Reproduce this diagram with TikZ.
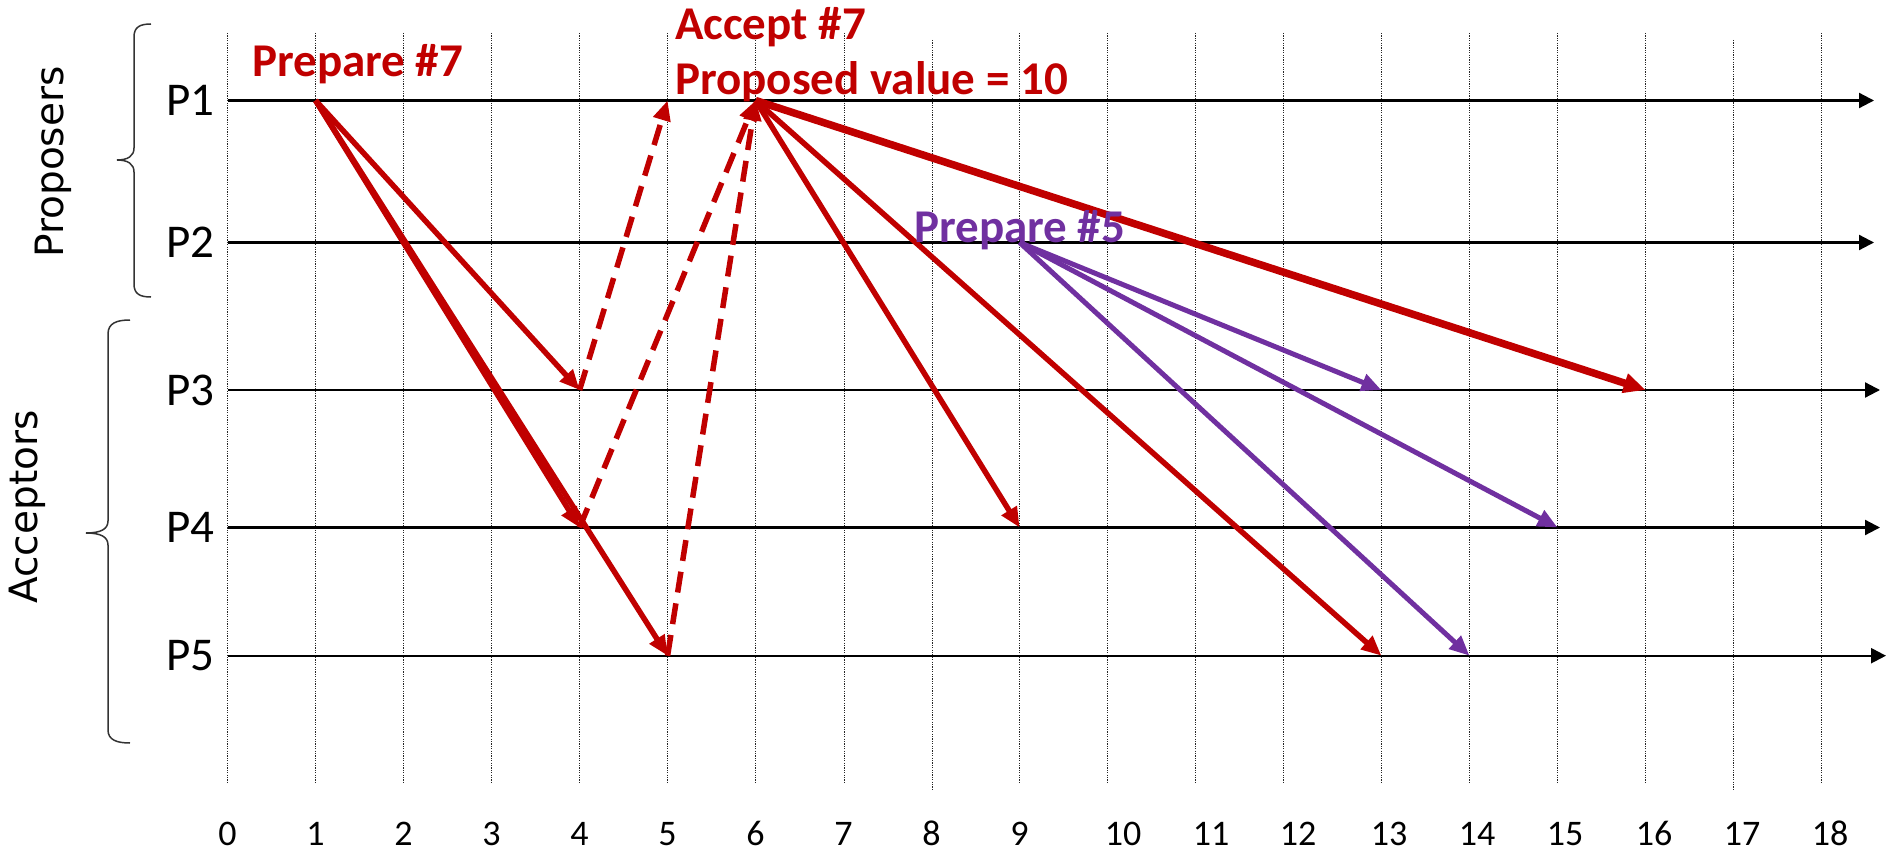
\documentclass[tikz,border=0pt]{standalone}
\usepackage{fontspec}
\setmainfont{Carlito}
\newfontfamily\dvs{DejaVu Sans}
\usetikzlibrary{arrows.meta}
\definecolor{accred}{HTML}{C00000}
\definecolor{accpurple}{HTML}{7030A0}
\begin{document}
\begin{tikzpicture}[x=1pt,y=-1pt,
  gridline/.style={line width=0.9pt, dash pattern=on 1.2pt off 1.2pt, black!85},
  axisline/.style={line width=2.2pt, black, -{Triangle[length=15pt,width=15pt]}},
  redmsg/.style={line width=5.5pt, accred, -{Triangle[length=20pt,width=17pt]}},
  redthick/.style={line width=7.5pt, accred, -{Triangle[length=22pt,width=19pt]}},
  redreply/.style={redmsg, dash pattern=on 21pt off 11pt},
  purmsg/.style={line width=5pt, accpurple, -{Triangle[length=20pt,width=17pt]}},
  plabel/.style={font=\fontsize{47}{56}\selectfont, anchor=base west, inner sep=0pt},
  tlabel/.style={font=\fontsize{36}{42}\selectfont, anchor=base, inner sep=0pt},
  evlabel/.style={font=\fontsize{47}{55}\selectfont\bfseries, anchor=base west, inner sep=0pt},
  grouplabel/.style={font=\dvs\fontsize{39}{46}\selectfont, rotate=90, anchor=base, inner sep=0pt},
  bracepath/.style={line width=1.5pt, black!80}
]
\useasboundingbox (0,0) rectangle (1895,853);

% grid lines
\foreach \gx in {227.6,315.6,403.6,491.6,579.6,667.6,755.6,844.6,1019.6,1107.6,1195.6,1283.6,1381.4,1469.5,1557.6,1645.7,1821.9}
  \draw[gridline] (\gx,33) -- (\gx,784);
\foreach \gx in {932.6,1733.8}
  \draw[gridline] (\gx,40) -- (\gx,789);

% time labels
\foreach \i/\lx in {0/227.6,1/315.6,2/403.6,3/491.6,4/579.6,5/667.6,6/755.6,7/843.6,8/931.6,9/1019.6,10/1123,11/1211,12/1298,13/1389,14/1477,15/1565,16/1654,17/1742,18/1830}
  \node[tlabel] (t\i) at (\lx,845) {\i};

% process axes
\coordinate (s1) at (227.6,100.5);  \coordinate (e1) at (1874,100.5);
\coordinate (s2) at (227.6,242.5);  \coordinate (e2) at (1874,242.5);
\coordinate (s3) at (227.6,390);    \coordinate (e3) at (1880,390);
\coordinate (s4) at (227.6,527.5);  \coordinate (e4) at (1880,527.5);
\coordinate (s5) at (227.6,655.7);  \coordinate (e5) at (1886,655.7);
\foreach \k in {1,...,5} \draw[axisline] (s\k) -- (e\k);

% process labels
\node[plabel] (P1) at (166,115.5) {P1};
\node[plabel] (P2) at (166,257.5) {P2};
\node[plabel] (P3) at (166,405) {P3};
\node[plabel] (P4) at (166,542) {P4};
\node[plabel] (P5) at (166,670) {P5};

% group labels and braces
\node[grouplabel] (prop) at (63,162) {Proposers};
\node[grouplabel] (acc) at (37,507) {Acceptors};
\draw[bracepath] (151,24) .. controls (140,24) and (134,27) .. (134,37) -- (134,148)
  .. controls (134,156) and (128,160) .. (117,160)
  .. controls (128,160) and (134,164) .. (134,172) -- (134,284)
  .. controls (134,294) and (140,297) .. (151,297);
\draw[bracepath] (130,320) .. controls (117,320) and (108,323) .. (108,334) -- (108,521)
  .. controls (108,529) and (101,533) .. (86,533)
  .. controls (101,533) and (108,537) .. (108,545) -- (108,730)
  .. controls (108,740) and (117,743) .. (130,743);

% events
\coordinate (p1t1) at (315.6,100.5);
\coordinate (p3t4) at (579.6,390);
\coordinate (p4t4) at (579.6,527.5);
\coordinate (p5t5) at (667.6,655.7);
\coordinate (p1t5) at (667.6,100.5);
\coordinate (p1t6) at (755.6,100.5);
\coordinate (p3t16) at (1645.7,390);
\coordinate (p4t9) at (1019.6,527.5);
\coordinate (p5t13) at (1381.4,655.7);
\coordinate (p2t9) at (1019.6,242.5);
\coordinate (p3t13) at (1381.4,390);
\coordinate (p4t15) at (1557.6,527.5);
\coordinate (p5t14) at (1469.5,655.7);

% prepare #7
\draw[redmsg] (p1t1) -- (p3t4);
\draw[redmsg] (p1t1) -- (p4t4);
\draw[redmsg] (p1t1) -- (p5t5);
% promises
\draw[redreply] (p3t4) -- (p1t5);
\draw[redreply] (p4t4) -- (p1t6);
\draw[redreply] (p5t5) -- (p1t6);
% accept #7
\draw[redthick] (p1t6) -- (p3t16);
\draw[redmsg] (p1t6) -- (p4t9);
\draw[redmsg] (p1t6) -- (p5t13);
% prepare #5
\draw[purmsg] (p2t9) -- (p3t13);
\draw[purmsg] (p2t9) -- (p4t15);
\draw[purmsg] (p2t9) -- (p5t14);

% event labels
\node[evlabel, text=accred] (prep7) at (252,77) {Prepare \#7};
\node[evlabel, text=accred] (acc7) at (675,40) {Accept \#7};
\node[evlabel, text=accred] (pval) at (675,95) {Proposed value = 10};
\node[evlabel, text=accpurple] (prep5) at (914,242) {Prepare \#5};
\end{tikzpicture}
\end{document}
